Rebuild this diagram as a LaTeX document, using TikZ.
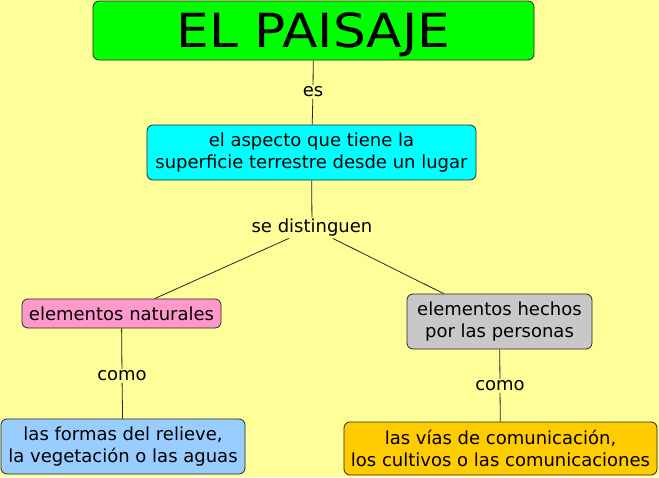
\documentclass[tikz,border=0pt]{standalone}
\usepackage{fontspec}
\setmainfont{DejaVu Sans}
\usetikzlibrary{positioning}
\definecolor{fondo}{HTML}{FFFF99}
\definecolor{verde}{HTML}{00FF00}
\definecolor{cian}{HTML}{00FFFF}
\definecolor{rosa}{HTML}{FF99CC}
\definecolor{gris}{HTML}{C8C8C8}
\definecolor{azul}{HTML}{99CCFF}
\definecolor{naranja}{HTML}{FFCC00}

\begin{document}
\begin{tikzpicture}[
        x=1pt, y=-1pt,
        concepto/.style={rectangle, rounded corners=6pt, draw=black!85, line width=0.8pt, align=center,
            font=\fontsize{18}{22}\selectfont, inner sep=2pt},
        enlace/.style={font=\fontsize{18}{22}\selectfont, inner sep=1.5pt},
        linea/.style={draw=black!85, line width=0.8pt},
    ]
    \fill[fondo] (0,0) rectangle (659,477);
    \useasboundingbox (0,0) rectangle (659,477);
    \node[concepto, fill=verde, minimum width=441pt, minimum height=59pt, text depth=0pt,
          font=\fontsize{47}{50}\selectfont\addfontfeature{FakeStretch=1.1}] (paisaje) at (313.5, 30.5) {EL PAISAJE};
    \node[enlace]                                       (es)        at (313, 92)      {es};
    \node[concepto, fill=cian, minimum width=329pt, minimum height=55pt]
                                                        (aspecto)   at (311.5, 152.5) {el aspecto que tiene la\\superficie terrestre desde un lugar};
    \node[enlace]                                       (distinguen) at (312, 228)    {se distinguen};
    \node[concepto, fill=rosa, minimum width=199pt, minimum height=29pt]
                                                        (naturales) at (121.5, 313.5) {elementos naturales};
    \node[concepto, fill=gris, minimum width=185pt, minimum height=55pt]
                                                        (hechos)    at (499.5, 321.5) {elementos hechos\\por las personas};
    \node[enlace]                                       (como1)     at (122, 376)     {como};
    \node[enlace]                                       (como2)     at (500, 386)     {como};
    \node[concepto, fill=azul, minimum width=244pt, minimum height=55pt]
                                                        (relieve)   at (123, 446.5)   {las formas del relieve,\\la vegetación o las aguas};
    \node[concepto, fill=naranja, minimum width=313pt, minimum height=53pt]
                                                        (vias)      at (500.5, 448.5) {las vías de comunicación,\\los cultivos o las comunicaciones};
    \draw[linea] (paisaje) -- (es) -- (aspecto);
    \draw[linea] (aspecto) -- (distinguen);
    \draw[linea] (distinguen) -- (naturales);
    \draw[linea] (distinguen) -- (hechos);
    \draw[linea] (naturales) -- (como1) -- (relieve);
    \draw[linea] (hechos) -- (como2) -- (vias);
\end{tikzpicture}
\end{document}
